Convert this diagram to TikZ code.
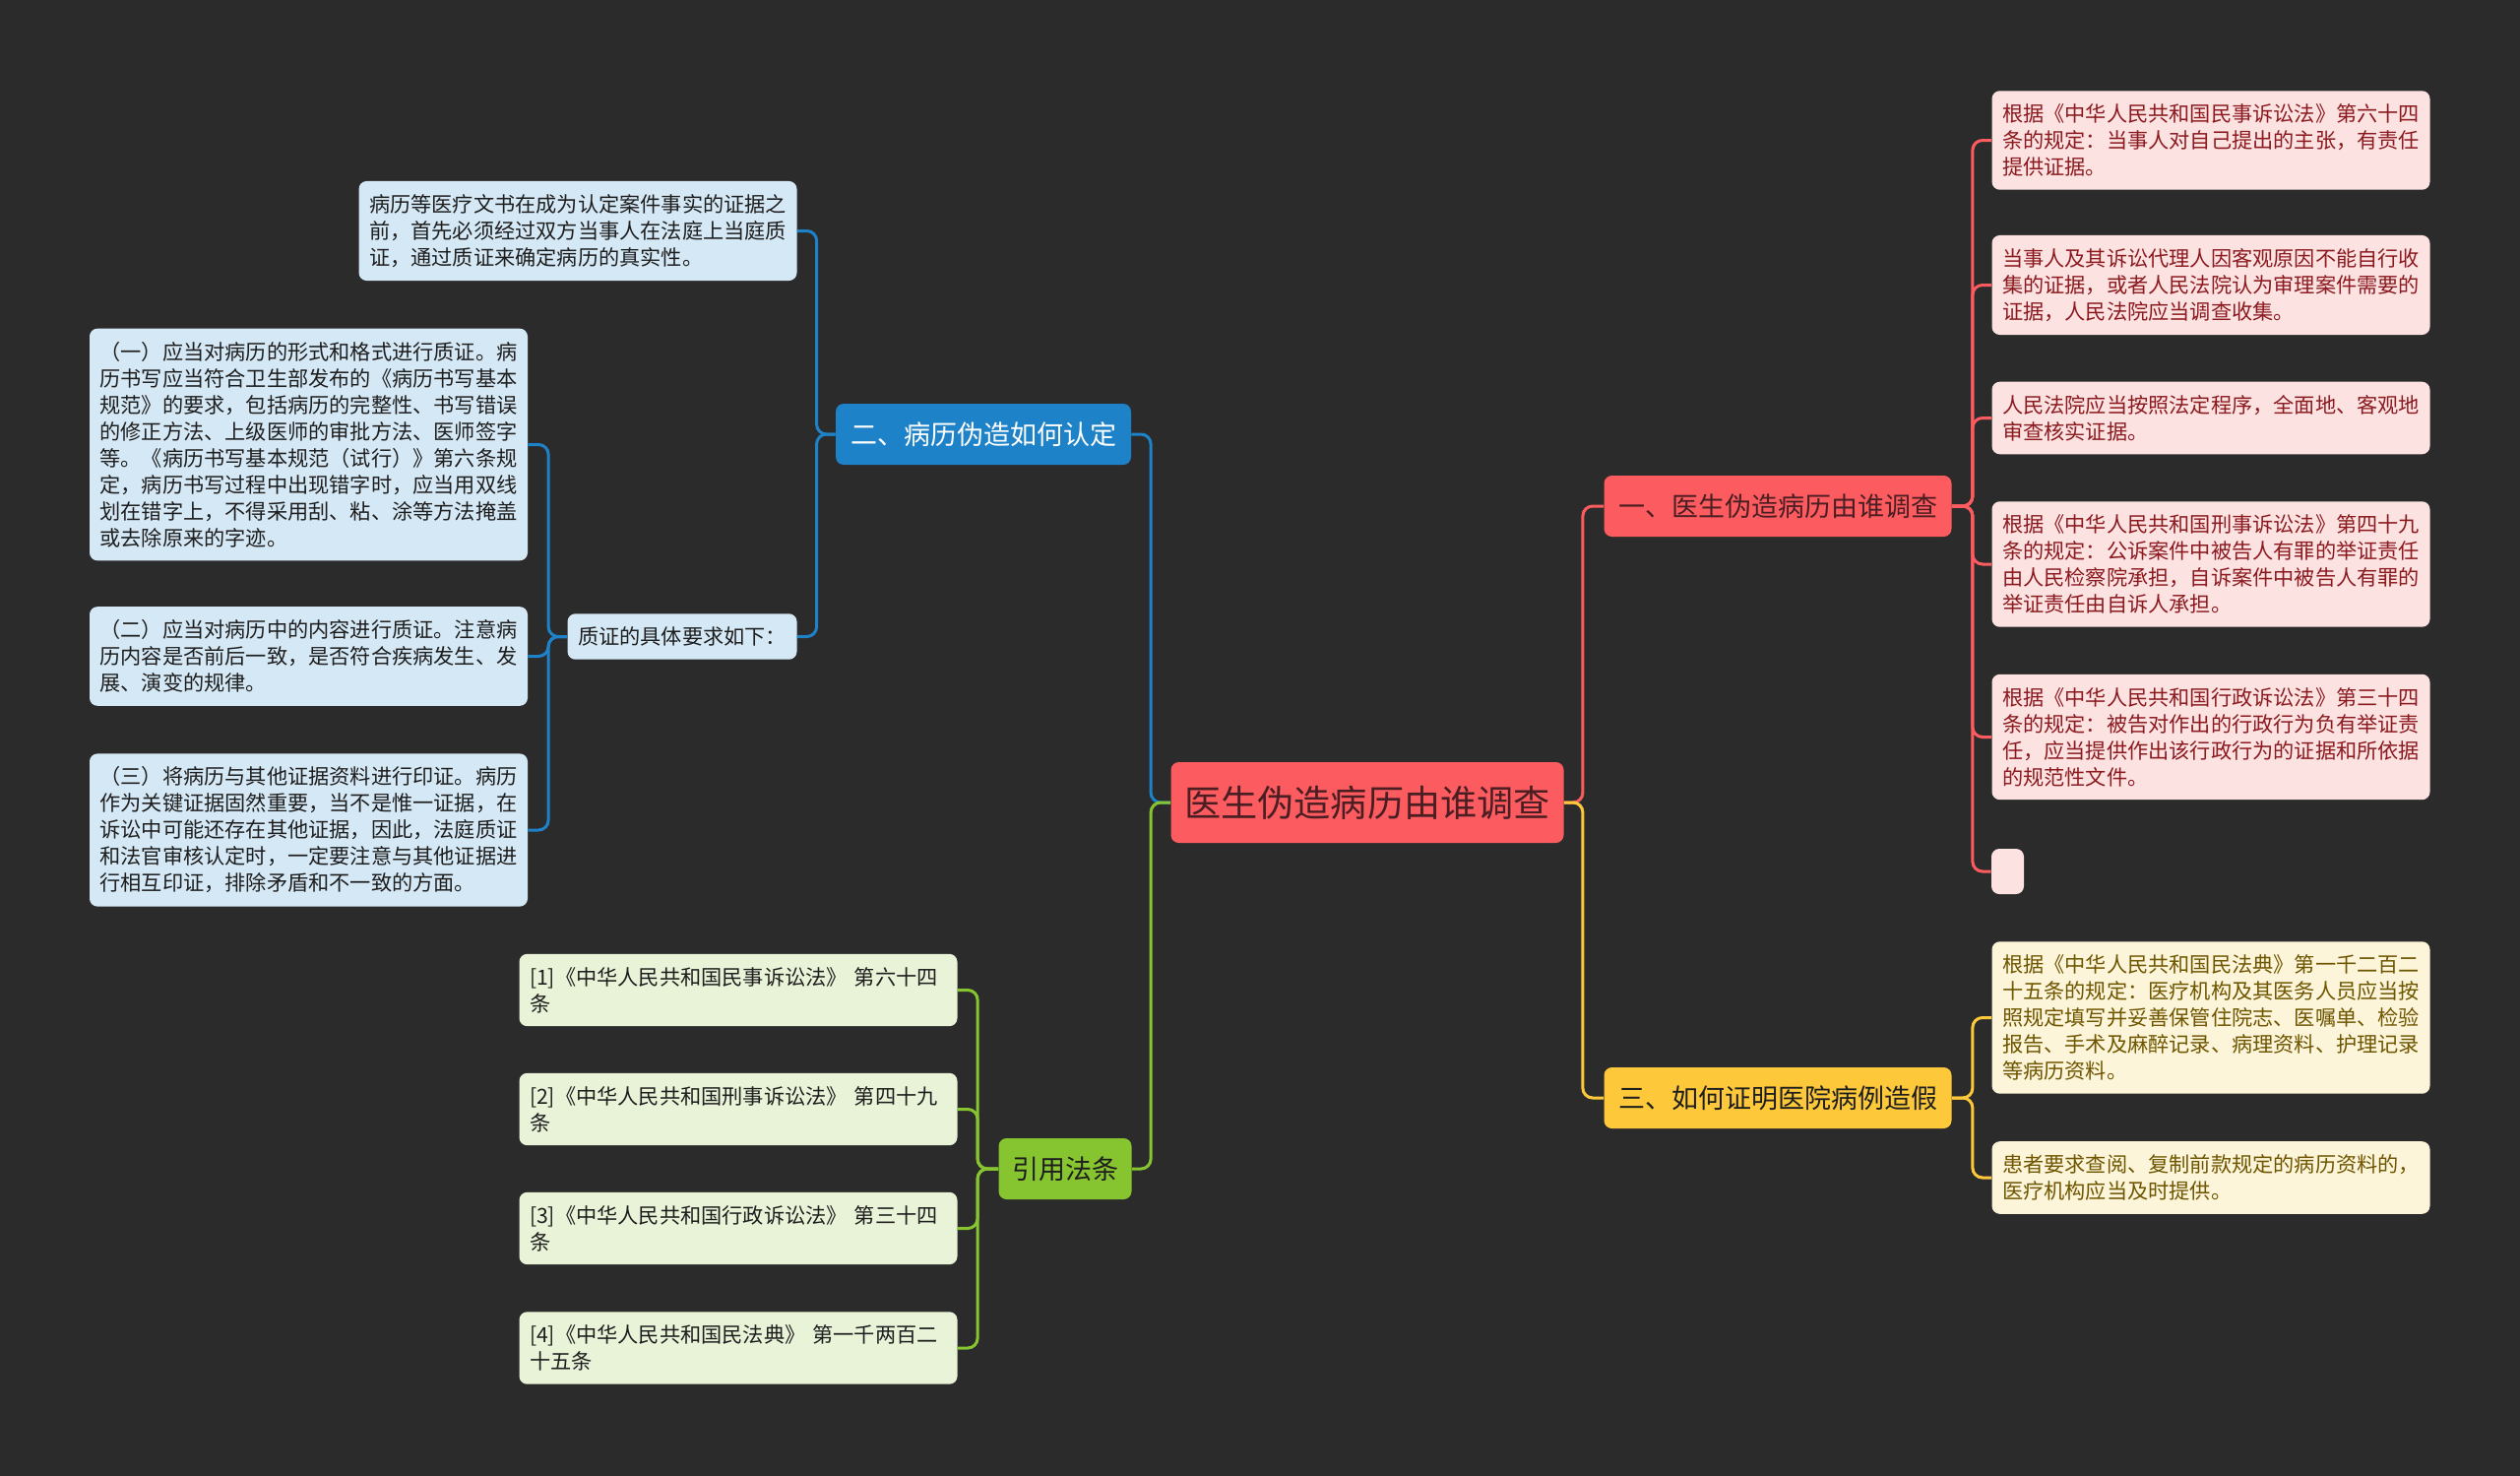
\documentclass[tikz,border=0pt]{standalone}
\usepackage{fontspec}
\setmainfont{Noto Sans CJK SC}
\usepackage{xcolor}
\usetikzlibrary{positioning}

\definecolor{bgdark}{HTML}{2B2B2B}
\definecolor{coral}{HTML}{FC5B5F}
\definecolor{bluemain}{HTML}{1E82C8}
\definecolor{yellowmain}{HTML}{FDC83A}
\definecolor{greenmain}{HTML}{86C530}
\definecolor{redpale}{HTML}{FDE2E2}
\definecolor{bluepale}{HTML}{D5E8F5}
\definecolor{yellowpale}{HTML}{FDF5D9}
\definecolor{greenpale}{HTML}{E9F3D8}
\definecolor{redtext}{HTML}{8B1A1F}
\definecolor{yellowtext}{HTML}{6E5500}
\definecolor{roottext}{HTML}{4A1E22}
\definecolor{darktext}{HTML}{1E1E1E}

\begin{document}
\begin{tikzpicture}[
  x=0.5pt, y=-0.5pt,
  rootnode/.style={rectangle, rounded corners=4pt, fill=coral, text=roottext,
                   minimum width=199.5pt, minimum height=41pt, inner sep=0pt,
                   font=\fontsize{18.6}{22}\selectfont},
  branch/.style={rectangle, rounded corners=4pt, minimum height=31pt, inner sep=0pt,
                 font=\fontsize{13.5}{16}\selectfont},
  redbranch/.style={branch, fill=coral, text=roottext, minimum width=176.5pt},
  bluebranch/.style={branch, fill=bluemain, text=white, minimum width=150pt},
  yellowbranch/.style={branch, fill=yellowmain, text=darktext, minimum width=176.5pt},
  greenbranch/.style={branch, fill=greenmain, text=darktext, minimum width=67.5pt},
  leaf/.style={rectangle, rounded corners=4pt, text width=212pt, align=left,
               inner xsep=5.25pt, inner ysep=6.7pt,
               font=\fontsize{10.6}{13.5}\selectfont},
  redleaf/.style={leaf, fill=redpale, text=redtext},
  blueleaf/.style={leaf, fill=bluepale, text=darktext},
  yellowleaf/.style={leaf, fill=yellowpale, text=yellowtext},
  greenleaf/.style={leaf, fill=greenpale, text=darktext},
  link/.style={line width=1.5pt, rounded corners=5pt}
]

% Background and page size
\fill[bgdark] (0,0) rectangle (2560,1499);

% Centre
\node[rootnode] (root) at (1389, 815) {医生伪造病历由谁调查};

% Main branches
\node[redbranch]    (br1) at (1806, 514)  {一、医生伪造病历由谁调查};
\node[bluebranch]   (br2) at (999, 441)   {二、病历伪造如何认定};
\node[yellowbranch] (br3) at (1806, 1115) {三、如何证明医院病例造假};
\node[greenbranch]  (br4) at (1082, 1187) {引用法条};

% Branch one: right column
\node[redleaf] (r1) at (2246, 142.5) {根据《中华人民共和国民事诉讼法》第六十四\\条的规定：当事人对自己提出的主张，有责任\\提供证据。};
\node[redleaf] (r2) at (2246, 289.5) {当事人及其诉讼代理人因客观原因不能自行收\\集的证据，或者人民法院认为审理案件需要的\\证据，人民法院应当调查收集。};
\node[redleaf] (r3) at (2246, 424.5) {人民法院应当按照法定程序，全面地、客观地\\审查核实证据。};
\node[redleaf] (r4) at (2246, 573)   {根据《中华人民共和国刑事诉讼法》第四十九\\条的规定：公诉案件中被告人有罪的举证责任\\由人民检察院承担，自诉案件中被告人有罪的\\举证责任由自诉人承担。};
\node[redleaf] (r5) at (2246, 748.5) {根据《中华人民共和国行政诉讼法》第三十四\\条的规定：被告对作出的行政行为负有举证责\\任，应当提供作出该行政行为的证据和所依据\\的规范性文件。};
\node[rectangle, rounded corners=4pt, fill=redpale, minimum width=16.5pt,
      minimum height=23pt, inner sep=0pt] (r6) at (2039.5, 885) {};

% Branch two: left column
\node[blueleaf] (b1) at (587, 234.5) {病历等医疗文书在成为认定案件事实的证据之\\前，首先必须经过双方当事人在法庭上当庭质\\证，通过质证来确定病历的真实性。};
\node[blueleaf, text width=106pt] (req) at (693, 646.5) {质证的具体要求如下：};
\node[blueleaf] (b2) at (313.5, 451.5) {（一）应当对病历的形式和格式进行质证。病\\历书写应当符合卫生部发布的《病历书写基本\\规范》的要求，包括病历的完整性、书写错误\\的修正方法、上级医师的审批方法、医师签字\\等。《病历书写基本规范（试行）》第六条规\\定，病历书写过程中出现错字时，应当用双线\\划在错字上，不得采用刮、粘、涂等方法掩盖\\或去除原来的字迹。};
\node[blueleaf] (b3) at (313.5, 666.5) {（二）应当对病历中的内容进行质证。注意病\\历内容是否前后一致，是否符合疾病发生、发\\展、演变的规律。};
\node[blueleaf] (b4) at (313.5, 843)   {（三）将病历与其他证据资料进行印证。病历\\作为关键证据固然重要，当不是惟一证据，在\\诉讼中可能还存在其他证据，因此，法庭质证\\和法官审核认定时，一定要注意与其他证据进\\行相互印证，排除矛盾和不一致的方面。};

% Branch three: right column, lower
\node[yellowleaf] (y1) at (2246, 1033.5) {根据《中华人民共和国民法典》第一千二百二\\十五条的规定：医疗机构及其医务人员应当按\\照规定填写并妥善保管住院志、医嘱单、检验\\报告、手术及麻醉记录、病理资料、护理记录\\等病历资料。};
\node[yellowleaf] (y2) at (2246, 1196)   {患者要求查阅、复制前款规定的病历资料的，\\医疗机构应当及时提供。};

% References
\node[greenleaf] (g1) at (750, 1005.5) {[1]《中华人民共和国民事诉讼法》 第六十四\\条};
\node[greenleaf] (g2) at (750, 1126.5) {[2]《中华人民共和国刑事诉讼法》 第四十九\\条};
\node[greenleaf] (g3) at (750, 1247.5) {[3]《中华人民共和国行政诉讼法》 第三十四\\条};
\node[greenleaf] (g4) at (750, 1369)   {[4]《中华人民共和国民法典》 第一千两百二\\十五条};

% --- Links ---
% Centre to branches
\draw[link, draw=coral]      (root.east) -- ++(19,0) |- (br1.west);
\draw[link, draw=yellowmain] (root.east) -- ++(19,0) |- (br3.west);
\draw[link, draw=bluemain]   (root.west) -- ++(-20,0) |- (br2.east);
\draw[link, draw=greenmain]  (root.west) -- ++(-20,0) |- (br4.east);

% Branch one to its leaves
\foreach \leaf in {r1,r2,r3,r4,r5,r6}
  \draw[link, draw=coral] (br1.east) -- ++(21,0) |- (\leaf.west);

% Branch two to its leaves
\foreach \leaf in {b1,req}
  \draw[link, draw=bluemain] (br2.west) -- ++(-19,0) |- (\leaf.east);
\foreach \leaf in {b2,b3,b4}
  \draw[link, draw=bluemain] (req.west) -- ++(-19,0) |- (\leaf.east);

% Branch three to its leaves
\foreach \leaf in {y1,y2}
  \draw[link, draw=yellowmain] (br3.east) -- ++(21,0) |- (\leaf.west);

% References
\foreach \leaf in {g1,g2,g3,g4}
  \draw[link, draw=greenmain] (br4.west) -- ++(-21,0) |- (\leaf.east);

\end{tikzpicture}
\end{document}
